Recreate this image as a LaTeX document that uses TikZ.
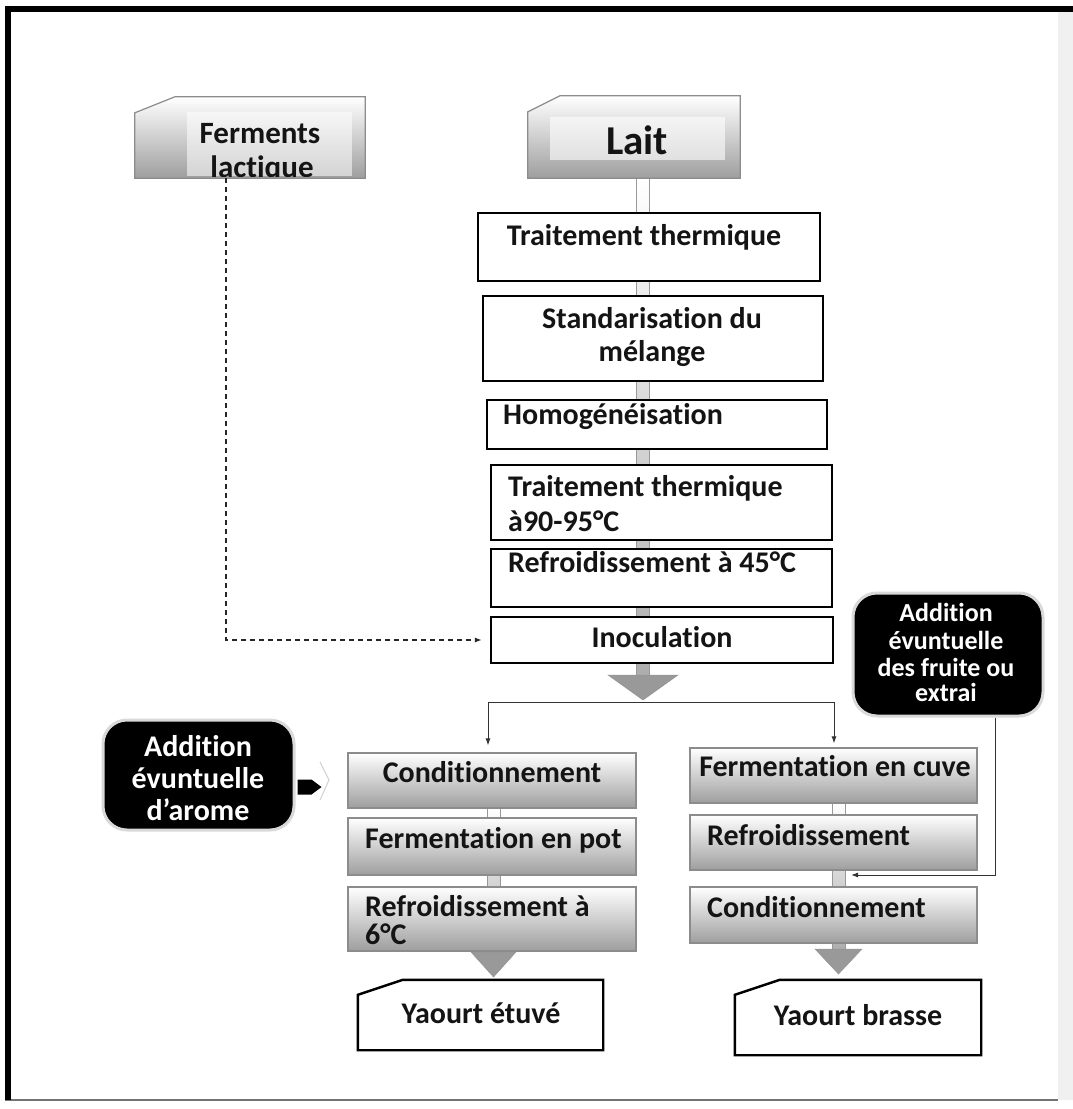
\documentclass[tikz,border=0pt]{standalone}
\usepackage{fontspec}
\setmainfont{Carlito}[Ligatures=NoCommon]
\usetikzlibrary{arrows.meta,calc}
\newcommand\myfs[1]{\fontsize{#1}{#1}\selectfont}
\begin{document}
\begin{tikzpicture}[x=1pt,y=-1pt,
  lbl/.style={font=\myfs{30}\bfseries, inner sep=0pt, anchor=mid, text=black!92, yshift=-7pt},
  lbll/.style={lbl, anchor=mid west},
  wlbl/.style={lbl, text=white},
  wbox/.style={draw=black, line width=2.4pt, fill=white, inner sep=0pt},
  holder/.style={inner sep=0pt, draw=none},
  gbox/.style={draw=black!45, line width=1.2pt, top color=white, bottom color=black!38, inner sep=0pt},
  blackbox/.style={fill=black, draw=black!15, line width=3pt, rounded corners=24pt, inner sep=0pt},
  shaft/.style={draw=black!40, line width=0.8pt, top color=white, bottom color=black!32},
  head/.style={fill=black!40, draw=black!42, line width=0.5pt, line join=miter},
  thin/.style={draw=black!80, line width=1pt},
  tip/.style={-{Latex[length=7pt,width=5pt]}}
]
\useasboundingbox (0,0) rectangle (1073,1109);
\fill[white] (0,0) rectangle (1073,1109);
% page frame
\fill[black!6] (1058,12) rectangle (1073,1100);
\draw[black!55, line width=1.5pt] (5,1100) -- (1058,1100);
\draw[black, line width=6pt] (8,1100) -- (8,9) -- (1073,9);

% ---------- main shaft and head ----------
\coordinate (mtop) at (636.5,178);
\coordinate (mbot) at (649.5,676);
\path[shaft] (mtop) rectangle (mbot);
\coordinate (mhl) at (608,675);
\coordinate (mhr) at (678,675);
\coordinate (mtip) at (643,700);
\path[head] (mhl) -- (mhr) -- (mtip) -- cycle;

% ---------- left / right column shafts ----------
\path[shaft] (487,806) rectangle (500,953);
\path[head] (471,952) -- (516,952) -- (493.5,977) -- cycle;
\path[shaft] (832,801) rectangle (845,950);
\path[head] (815,949) -- (862,949) -- (838.5,974) -- cycle;

% ---------- Ferments lactique ----------
\node[holder, minimum width=230pt, minimum height=81pt] (ferm) at (250,137.5) {};
\path[gbox] ([yshift=-16pt]ferm.north west) -- ([xshift=40pt]ferm.north west) -- (ferm.north east) -- (ferm.south east) -- (ferm.south west) -- cycle;
\fill[white, opacity=0.55] (187,112) rectangle (352,176);
\begin{scope}
\clip (135,97) rectangle (365,176);
\node[lbl, font=\myfs{31}\bfseries] (fe-a) at (260,134) {Ferments};
\node[lbl, font=\myfs{31}\bfseries] (fe-b) at (262,168) {lactique};
\end{scope}

% ---------- Lait ----------
\node[holder, minimum width=212pt, minimum height=82pt] (lait) at (634,137) {};
\path[gbox] ([yshift=-16pt]lait.north west) -- ([xshift=32pt]lait.north west) -- (lait.north east) -- (lait.south east) -- (lait.south west) -- cycle;
\fill[white, opacity=0.6] (550,117) rectangle (725,160);
\node[lbl, font=\myfs{41}\bfseries, yshift=-3pt] (lait-a) at (637,142) {Lait};

% ---------- main column boxes ----------
\node[wbox, minimum width=342pt, minimum height=68pt] (tt) at (649,247) {};
\node[lbl] (tt-a) at (644,236) {Traitement thermique};
\node[wbox, minimum width=340pt, minimum height=85pt] (std) at (653,338.5) {};
\node[lbl] (std-a) at (652,319) {Standarisation du};
\node[lbl] (std-b) at (652,352) {mélange};
\node[wbox, minimum width=340pt, minimum height=49pt] (hom) at (657,424.5) {};
\node[lbll] (hom-a) at (503,415) {Homogénéisation};
\node[wbox, minimum width=341pt, minimum height=75pt] (tt2) at (661.5,502.5) {};
\node[lbll] (tt2-a) at (508,487) {Traitement thermique};
\node[lbll] (tt2-b) at (508,522) {à90-95°C};
\node[wbox, minimum width=341pt, minimum height=58pt] (r45) at (661.5,578) {};
\node[lbll] (r45-a) at (508,563) {Refroidissement à 45°C};
\node[wbox, minimum width=342pt, minimum height=46pt] (inoc) at (662,640) {};
\node[lbl] (inoc-a) at (662,638) {Inoculation};

% ---------- left column ----------
\node[gbox, minimum width=288pt, minimum height=55pt] (cl) at (492,780.5) {};
\node[lbl] (cl-a) at (492,773) {Conditionnement};
\node[gbox, minimum width=288pt, minimum height=57pt] (fp) at (492,846.5) {};
\node[lbll] (fp-a) at (365,839) {Fermentation en pot};
\node[gbox, minimum width=288pt, minimum height=64pt] (r6) at (492,919) {};
\node[lbll] (r6-a) at (365,907) {Refroidissement à};
\node[lbll] (r6-b) at (365,935) {6°C};

% ---------- right column ----------
\node[gbox, minimum width=287pt, minimum height=55pt] (fc) at (833.5,775.5) {};
\node[lbl] (fc-a) at (835,767) {Fermentation en cuve};
\node[gbox, minimum width=287pt, minimum height=55pt] (rr) at (833.5,842.5) {};
\node[lbll] (rr-a) at (707,836) {Refroidissement};
\node[gbox, minimum width=287pt, minimum height=56pt] (cr) at (833.5,915) {};
\node[lbll] (cr-a) at (707,908) {Conditionnement};

% ---------- end products ----------
\node[holder, minimum width=245pt, minimum height=70pt] (ye) at (480.5,1015) {};
\path[wbox] ([yshift=-15pt]ye.north west) -- ([xshift=45pt]ye.north west) -- (ye.north east) -- (ye.south east) -- (ye.south west) -- cycle;
\node[lbl] (ye-a) at (481,1014) {Yaourt étuvé};
\node[holder, minimum width=246pt, minimum height=75pt] (yb) at (858,1017.5) {};
\path[wbox] ([yshift=-15pt]yb.north west) -- ([xshift=45pt]yb.north west) -- (yb.north east) -- (yb.south east) -- (yb.south west) -- cycle;
\node[lbl] (yb-a) at (858,1016) {Yaourt brasse};

% ---------- split after inoculation ----------
\coordinate (sl) at (488,702);
\coordinate (sr) at (834,702);
\draw[thin] (sl) -- (sr);
\draw[thin, tip, shorten >=7pt] (sl) -- (sl |- cl.north);
\draw[thin, tip, shorten >=4pt] (sr) -- (sr |- fc.north);

% ---------- dashed ferments line ----------
\draw[draw=black!85, line width=1.1pt, dash pattern=on 5pt off 4pt, tip, shorten >=8pt] ([xshift=-24pt]ferm.south) |- (inoc.west);

% ---------- Addition aroma ----------
\node[blackbox, minimum width=191pt, minimum height=110pt] (aro) at (198.5,775) {};
\node[wlbl] (aro-a) at (198,747) {Addition};
\node[wlbl] (aro-b) at (198,779) {évuntuelle};
\node[wlbl] (aro-c) at (198,811) {d’arome};
\fill[black] ([xshift=2pt,yshift=-4.5pt]aro.east) -- ++(14,0) -- ++(10,7.5) -- ++(-10,7.5) -- ++(-14,0) -- cycle;
\draw[black!18, line width=1pt] (320,762) -- (329,780) -- (320,800);

% ---------- Addition fruits ----------
\node[blackbox, minimum width=190pt, minimum height=123pt] (fru) at (948,654.5) {};
\node[wlbl, font=\myfs{26}\bfseries, yshift=1pt] (fru-a) at (946,613) {Addition};
\node[wlbl, font=\myfs{26}\bfseries, yshift=1pt] (fru-b) at (946,641) {évuntuelle};
\node[wlbl, font=\myfs{26}\bfseries, yshift=1pt] (fru-c) at (946,668) {des fruite ou};
\node[wlbl, font=\myfs{26}\bfseries, yshift=1pt] (fru-d) at (946,693) {extrai};
\coordinate (fin) at (851,875);
\draw[thin, tip] ([xshift=47pt]fru.south) |- (fin);
\end{tikzpicture}
\end{document}
